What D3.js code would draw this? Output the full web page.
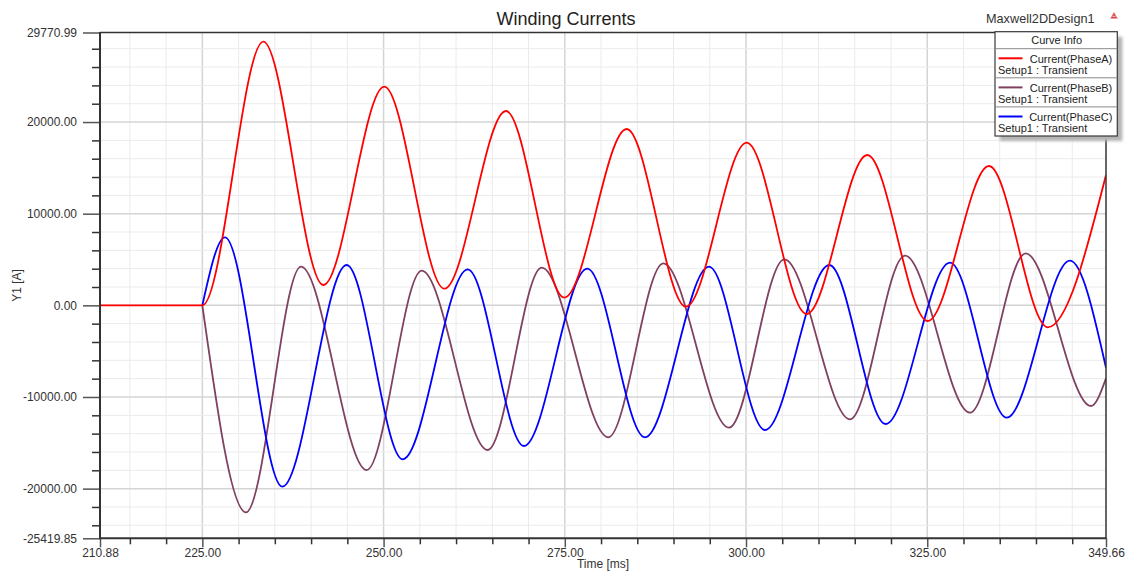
<!DOCTYPE html>
<html>
<head>
<meta charset="utf-8">
<title>Winding Currents</title>
<script src="https://cdn.jsdelivr.net/npm/d3@7"></script>
<style>
  html, body { margin: 0; padding: 0; background: #ffffff; }
  svg { display: block; font-family: "Liberation Sans", Arial, Helvetica, sans-serif; }
</style>
</head>
<body>
<svg id="chart" width="1127" height="572"></svg>
<script>
// ---- Data -----------------------------------------------------------------
// Time of the winding switch-on [ms]; all currents are zero before it.
const switchOn = 225.00;

// Phase A current: sample times [ms] and values [A] (extrema of each swing)
const timeA  = [210.88, 225.00, 233.41, 241.69, 250.10, 258.38, 266.89, 274.93, 283.54,
                291.72, 300.09, 308.37, 316.73, 325.06, 333.52, 341.62, 349.66];
const phaseA = [0, 0, 28770, 2220, 23860, 1815, 21205, 835, 19240,
                -150, 17745, -945, 16405, -1710, 15205, -2395, 14220];

// Phase B current
const timeB  = [210.88, 225.00, 231.02, 238.61, 247.67, 255.26, 264.36, 271.81, 281.00,
                288.59, 297.65, 305.28, 314.34, 321.93, 330.90, 338.58, 347.59, 349.66];
const phaseB = [0, 0, -22585, 4215, -17970, 3780, -15785, 4105, -14400,
                4585, -13350, 5025, -12435, 5415, -11715, 5680, -10985, -7960];

// Phase C current
const timeC  = [210.88, 225.00, 228.12, 236.03, 244.91, 252.64, 261.61, 269.37, 278.10,
                286.06, 294.89, 302.62, 311.49, 319.27, 328.14, 335.96, 344.69, 349.66];
const phaseC = [0, 0, 7425, -19790, 4400, -16800, 3930, -15350, 4000,
                -14400, 4215, -13605, 4400, -12950, 4650, -12260, 4870, -6805];

// Axis extents and labelled ticks
const xDomain = [210.88, 349.66];
const yDomain = [-25419.85, 29770.99];
const xTickValues = [210.88, 225, 250, 275, 300, 325, 349.66];
const xTickLabels = ["210.88", "225.00", "250.00", "275.00", "300.00", "325.00", "349.66"];
const yTickValues = [29770.99, 20000, 10000, 0, -10000, -20000, -25419.85];
const yTickLabels = ["29770.99", "20000.00", "10000.00", "0.00", "-10000.00", "-20000.00", "-25419.85"];
const xMajorStep = 25, xMinorStep = 5;
const yMajorStep = 10000, yMinorStep = 2000;

const seriesNames = ["Current(PhaseA)", "Current(PhaseB)", "Current(PhaseC)"];
const seriesSetup = "Setup1 : Transient";

// ---- Layout -----------------------------------------------------------------
const W = 1127, H = 572;
const plot = { left: 100, top: 32.5, right: 1106, bottom: 538.3 };
const colors = { A: "#ff0000", B: "rgb(128,64,96)", C: "#0000ff" };

const svg = d3.select("#chart");

const x = d3.scaleLinear().domain(xDomain).range([plot.left, plot.right]);
const y = d3.scaleLinear().domain(yDomain).range([plot.bottom, plot.top]);

const defs = svg.append("defs");
defs.append("clipPath").attr("id", "plotClip")
  .append("rect")
  .attr("x", plot.left).attr("y", plot.top)
  .attr("width", plot.right - plot.left).attr("height", plot.bottom - plot.top);
defs.append("filter").attr("id", "softShadow")
  .attr("x", "-10%").attr("y", "-10%").attr("width", "130%").attr("height", "130%")
  .append("feGaussianBlur").attr("stdDeviation", 1.4);

// ---- Grid -------------------------------------------------------------------
const inRange = (v, d) => v > d[0] + 1e-6 && v < d[1] - 1e-6;
const xMinor = d3.range(Math.ceil(xDomain[0] / xMinorStep) * xMinorStep, xDomain[1], xMinorStep)
  .filter(v => inRange(v, xDomain));
const yMinor = d3.range(Math.ceil(yDomain[0] / yMinorStep) * yMinorStep, yDomain[1], yMinorStep)
  .filter(v => inRange(v, yDomain));
const isMajor = (v, step) => Math.abs(v / step - Math.round(v / step)) < 1e-9;

const grid = svg.append("g").attr("class", "grid");
grid.selectAll("line.gx").data(xMinor).join("line")
  .attr("class", "gx")
  .attr("x1", d => x(d)).attr("x2", d => x(d))
  .attr("y1", plot.top).attr("y2", plot.bottom)
  .attr("stroke", d => isMajor(d, xMajorStep) ? "#d4d4d4" : "#ebebeb")
  .attr("stroke-width", d => isMajor(d, xMajorStep) ? 1.5 : 1);
grid.selectAll("line.gy").data(yMinor).join("line")
  .attr("class", "gy")
  .attr("y1", d => y(d)).attr("y2", d => y(d))
  .attr("x1", plot.left).attr("x2", plot.right)
  .attr("stroke", d => isMajor(d, yMajorStep) ? "#d4d4d4" : "#ebebeb")
  .attr("stroke-width", d => isMajor(d, yMajorStep) ? 1.5 : 1);

// ---- Curves -----------------------------------------------------------------
const smooth = d3.line().x(d => x(d[0])).y(d => y(d[1])).curve(d3.curveMonotoneX);

// Phase A is drawn last and carries the shared zero line before switch-on;
// B and C are traced from switch-on, where they leave zero with a steep slope.
const series = [
  { key: "B", t: timeB, v: phaseB, restStart: false },
  { key: "C", t: timeC, v: phaseC, restStart: false },
  { key: "A", t: timeA, v: phaseA, restStart: true }
];

function curvePath(s) {
  const pts = s.t.map((t, i) => [t, s.v[i]]);
  if (s.restStart) return smooth(pts);
  return smooth(pts.slice(s.t.indexOf(switchOn)));
}

const curves = svg.append("g").attr("clip-path", "url(#plotClip)");
curves.selectAll("path").data(series).join("path")
  .attr("d", curvePath)
  .attr("fill", "none")
  .attr("stroke", d => colors[d.key])
  .attr("stroke-width", 1.8)
  .attr("stroke-linejoin", "round");

// ---- Axes -------------------------------------------------------------------
const axisColor = "#333333";
const labelColor = "#333333";

// Y axis: minor ticks, then labelled major ticks
const yMinorAxis = svg.append("g").attr("transform", `translate(${plot.left},0)`)
  .call(d3.axisLeft(y).tickValues(yMinor.filter(v => !isMajor(v, yMajorStep))).tickSize(8).tickFormat(""));
const yAxis = svg.append("g").attr("transform", `translate(${plot.left},0)`)
  .call(d3.axisLeft(y).tickValues(yTickValues).tickSize(17).tickPadding(6)
    .tickFormat((d, i) => yTickLabels[i]));

// X axis
const xMinorAxis = svg.append("g").attr("transform", `translate(0,${plot.bottom})`)
  .call(d3.axisBottom(x).tickValues(xMinor.filter(v => !isMajor(v, xMajorStep))).tickSize(6).tickFormat(""));
const xAxis = svg.append("g").attr("transform", `translate(0,${plot.bottom})`)
  .call(d3.axisBottom(x).tickValues(xTickValues).tickSize(9).tickPadding(1)
    .tickFormat((d, i) => xTickLabels[i]));

[yMinorAxis, yAxis, xMinorAxis, xAxis].forEach(g => {
  g.select(".domain").remove();
  g.selectAll(".tick line").attr("stroke", axisColor).attr("stroke-width", 1.5);
  g.selectAll("text").attr("fill", labelColor).attr("font-size", 12)
    .attr("font-family", "\"Liberation Sans\", Arial, sans-serif");
});
yAxis.selectAll(".tick line").attr("stroke", "#555");
xAxis.selectAll(".tick line").attr("stroke", "#555");

// Plot frame
const frame = svg.append("g").attr("fill", "none").attr("stroke", axisColor);
frame.append("line").attr("x1", plot.left).attr("x2", plot.right)
  .attr("y1", plot.top).attr("y2", plot.top).attr("stroke-width", 1.5);
frame.append("line").attr("x1", plot.right).attr("x2", plot.right)
  .attr("y1", plot.top).attr("y2", plot.bottom).attr("stroke-width", 1.5);
frame.append("line").attr("x1", plot.left).attr("x2", plot.left)
  .attr("y1", plot.top - 0.5).attr("y2", plot.bottom + 0.5).attr("stroke-width", 2);
frame.append("line").attr("x1", plot.left - 0.5).attr("x2", plot.right + 0.5)
  .attr("y1", plot.bottom).attr("y2", plot.bottom).attr("stroke-width", 2);

// Axis titles
svg.append("text")
  .attr("x", (plot.left + plot.right) / 2).attr("y", 568)
  .attr("text-anchor", "middle").attr("font-size", 12).attr("fill", labelColor)
  .text("Time [ms]");
svg.append("text")
  .attr("transform", `translate(21,${(plot.top + plot.bottom) / 2}) rotate(-90)`)
  .attr("text-anchor", "middle").attr("font-size", 12).attr("fill", labelColor)
  .text("Y1 [A]");

// ---- Titles -----------------------------------------------------------------
svg.append("text")
  .attr("x", 566).attr("y", 25)
  .attr("text-anchor", "middle").attr("font-size", 18).attr("fill", "#222")
  .text("Winding Currents");
svg.append("text")
  .attr("x", 986).attr("y", 22.5)
  .attr("font-size", 12.7).attr("fill", "#333")
  .text("Maxwell2DDesign1");

// Small product mark beside the design name
const mark = svg.append("g").attr("transform", "translate(1114,11.5)");
mark.append("path").attr("d", "M0,0 L4.2,7.4 L-4.2,7.4 Z").attr("fill", "#eaa8a8");
mark.append("path").attr("d", "M0,1.4 L2.9,6.4 L-2.9,6.4 Z").attr("fill", "#d43c3c");
mark.append("path").attr("d", "M-1.6,4.8 L1.6,4.8").attr("stroke", "#ffffff").attr("stroke-width", 0.8);

// ---- Legend -----------------------------------------------------------------
const lg = { x: 995, y: 31.7, w: 122.3, headH: 17, rowH: 29.1 };
const lgH = lg.headH + seriesNames.length * lg.rowH;
const legend = svg.append("g");
legend.append("rect")
  .attr("x", lg.x + 5).attr("y", lg.y + 5).attr("width", lg.w).attr("height", lgH)
  .attr("fill", "#b4b4b4").attr("filter", "url(#softShadow)");
legend.append("rect")
  .attr("x", lg.x).attr("y", lg.y).attr("width", lg.w).attr("height", lgH)
  .attr("fill", "#ffffff").attr("stroke", "#3a3a3a").attr("stroke-width", 1.2);
legend.append("text")
  .attr("x", lg.x + lg.w / 2 + 0.5).attr("y", lg.y + 12.6)
  .attr("text-anchor", "middle").attr("font-size", 11).attr("fill", "#222")
  .text("Curve Info");

const legendKeys = ["A", "B", "C"];
legendKeys.forEach((k, i) => {
  const top = lg.y + lg.headH + i * lg.rowH;
  legend.append("line")
    .attr("x1", lg.x).attr("x2", lg.x + lg.w).attr("y1", top).attr("y2", top)
    .attr("stroke", "#8a8a8a").attr("stroke-width", 1);
  legend.append("line")
    .attr("x1", lg.x + 3.5).attr("x2", lg.x + 27.5)
    .attr("y1", top + 9.6).attr("y2", top + 9.6)
    .attr("stroke", colors[k]).attr("stroke-width", 2);
  legend.append("text")
    .attr("x", lg.x + lg.w - 5).attr("y", top + 13.8)
    .attr("text-anchor", "end").attr("font-size", 11).attr("fill", "#222")
    .text(seriesNames[i]);
  legend.append("text")
    .attr("x", lg.x + 3).attr("y", top + 24.8)
    .attr("font-size", 11).attr("fill", "#222")
    .text(seriesSetup);
});
</script>
</body>
</html>
